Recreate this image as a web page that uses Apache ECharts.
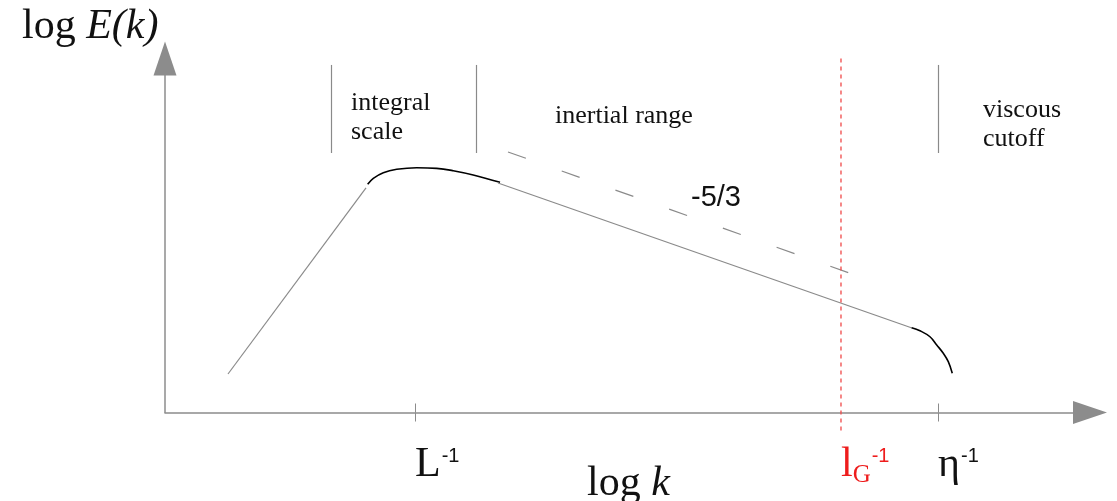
<!DOCTYPE html>
<html>
<head>
<meta charset="utf-8">
<script src="https://cdn.jsdelivr.net/npm/echarts@6/dist/echarts.min.js"></script>
<style>
  html, body { margin: 0; padding: 0; background: #fff; }
  #chart { width: 1117px; height: 501px; }
</style>
</head>
<body>
<div id="chart"></div>
<script>
// Energy spectrum sketch: log E(k) against log k (arbitrary log units)

// energy-containing range: straight rise, then the rounded peak
const riseK = [0.681, 2.173];
const riseE = [0.435, 2.537];
const peakK = [2.191, 2.252, 2.360, 2.505, 2.721, 2.937, 3.116, 3.332, 3.622];
const peakE = [2.578, 2.646, 2.710, 2.748, 2.766, 2.759, 2.732, 2.684, 2.601];

// inertial range, straight in log-log
const inertialK = [3.600, 8.076];
const inertialE = [2.593, 0.955];

// dissipative roll-off
const tailK = [8.072, 8.162, 8.270, 8.343, 8.414, 8.468, 8.511];
const tailE = [0.958, 0.924, 0.856, 0.763, 0.669, 0.574, 0.443];

// -5/3 reference slope
const slopeK = [3.708, 7.427];
const slopeE = [2.944, 1.565];

// region separators and their vertical extent
const dividerK = [1.795, 3.362, 8.357];
const dividerE = [2.932, 3.927];

// characteristic wavenumbers on the k axis
const tickK = [2.703, 8.357];
const tickNames = ['L', 'η'];
const gaussK = 7.308;
const gaussE = [4.0, -0.22];

// region names
const regionNames = ['integral\nscale', 'inertial range', 'viscous\ncutoff'];
const slopeText = '-5/3';

// axis extents (arrow heads are centred on the far ends)
const kMax = 10;
const eMax = 4;

const zip = (xs, ys) => xs.map((x, i) => [x, ys[i]]);

const serif = '"Liberation Serif", "DejaVu Serif", serif';
const sans = '"Liberation Sans", Arial, sans-serif';
const grey = '#8c8c8c';

const chart = echarts.init(document.getElementById('chart'), null, { renderer: 'canvas' });

const axisRich = {
  big: { fontFamily: serif, fontSize: 42, color: '#111', lineHeight: 46 },
  sup: { fontFamily: sans, fontSize: 20, color: '#111', verticalAlign: 'top', lineHeight: 20, padding: [5, 0, 0, 1] },
  redBig: { fontFamily: serif, fontSize: 42, color: '#ee1c1c', lineHeight: 46 },
  redSub: { fontFamily: serif, fontSize: 25, color: '#ee1c1c', verticalAlign: 'bottom', lineHeight: 25, padding: [0, 0, 0, 0] },
  redSup: { fontFamily: sans, fontSize: 20, color: '#ee1c1c', verticalAlign: 'top', lineHeight: 20, padding: [5, 0, 0, 1] }
};

function tickLabel(v) {
  if (Math.abs(v - gaussK) < 1e-6) return '{redBig|l}{redSub|G}{redSup|-1}';
  const i = tickK.findIndex(t => Math.abs(t - v) < 1e-6);
  return '{big|' + tickNames[i] + '}{sup|-1}';
}

const dividerLines = dividerK.map(k => [
  { coord: [k, dividerE[0]] },
  { coord: [k, dividerE[1]] }
]);

const option = {
  animation: false,
  backgroundColor: '#fff',
  grid: { left: 165, right: 27, top: 58.5, bottom: 88.5 },
  xAxis: [
    {
      type: 'value', min: 0, max: kMax,
      axisLine: { show: true, lineStyle: { color: grey, width: 1.5 }, symbol: ['none', 'triangle'], symbolSize: [23, 34] },
      axisTick: { show: true, customValues: tickK, length: 9, inside: false, lineStyle: { color: grey, width: 1 } },
      axisLabel: {
        show: true, customValues: [tickK[0], gaussK, tickK[1]],
        formatter: tickLabel, rich: axisRich, align: 'left', verticalAlign: 'top', margin: 29
      },
      splitLine: { show: false }
    },
    {
      type: 'value', min: 0, max: kMax, position: 'bottom',
      axisLine: { show: false },
      axisTick: { show: true, customValues: tickK, length: 9, inside: true, lineStyle: { color: grey, width: 1 } },
      axisLabel: { show: false },
      splitLine: { show: false }
    }
  ],
  yAxis: {
    type: 'value', min: 0, max: eMax,
    axisLine: { show: true, lineStyle: { color: grey, width: 1.5 }, symbol: ['none', 'triangle'], symbolSize: [23, 34] },
    axisTick: { show: false },
    axisLabel: { show: false },
    splitLine: { show: false }
  },
  series: [
    {
      type: 'line', data: zip(riseK, riseE), showSymbol: false,
      lineStyle: { color: '#8a8a8a', width: 1.2 }
    },
    {
      type: 'line', data: zip(peakK, peakE), showSymbol: false, smooth: 0.4,
      lineStyle: { color: '#000', width: 1.6 }
    },
    {
      type: 'line', data: zip(inertialK, inertialE), showSymbol: false,
      lineStyle: { color: '#8a8a8a', width: 1.2 }
    },
    {
      type: 'line', data: zip(tailK, tailE), showSymbol: false, smooth: 0.4,
      lineStyle: { color: '#000', width: 1.6 }
    },
    {
      type: 'line', data: zip(slopeK, slopeE), showSymbol: false,
      lineStyle: { color: '#8a8a8a', width: 1.2, type: [19, 38] }
    },
    {
      type: 'line', data: [], silent: true,
      markLine: {
        silent: true, symbol: ['none', 'none'], label: { show: false },
        lineStyle: { color: '#8a8a8a', width: 1.2, type: 'solid' },
        data: dividerLines
      }
    },
    {
      type: 'line', clip: false, showSymbol: false,
      data: gaussE.map(e => [gaussK, e]),
      lineStyle: { color: '#f04848', width: 1.3, type: [4, 4] }
    }
  ],
  graphic: [
    { type: 'text', left: 22, top: 6, style: { text: 'log {it|E(k)}', font: '42px ' + serif, fill: '#111',
      rich: { it: { fontFamily: serif, fontSize: 42, fontStyle: 'italic', fill: '#111' } } } },
    { type: 'text', left: 587, top: 463, style: { text: 'log {it|k}', font: '42px ' + serif, fill: '#111',
      rich: { it: { fontFamily: serif, fontSize: 42, fontStyle: 'italic', fill: '#111' } } } },
    { type: 'text', left: 351, top: 89, style: { text: regionNames[0], font: '26px ' + serif, fill: '#111', lineHeight: 29 } },
    { type: 'text', left: 555, top: 102, style: { text: regionNames[1], font: '26px ' + serif, fill: '#111', lineHeight: 29 } },
    { type: 'text', left: 983, top: 96, style: { text: regionNames[2], font: '26px ' + serif, fill: '#111', lineHeight: 29 } },
    { type: 'text', left: 691, top: 183, style: { text: slopeText, font: '29px ' + sans, fill: '#111' } }
  ]
};

chart.setOption(option);
</script>
</body>
</html>
